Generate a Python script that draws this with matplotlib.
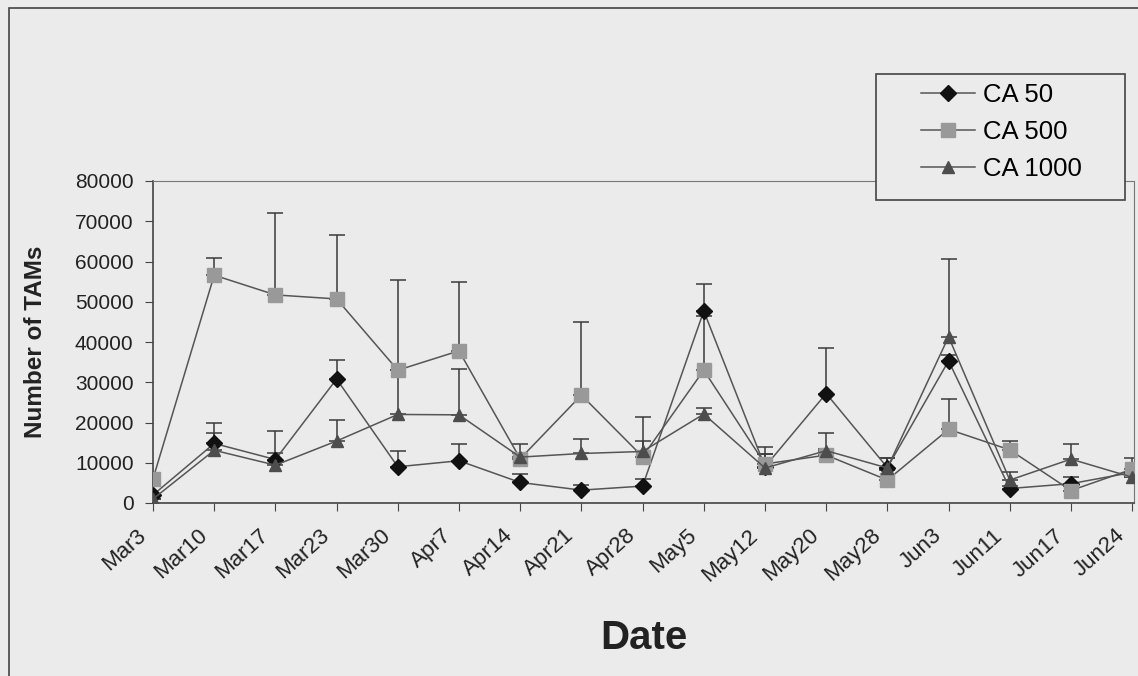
import numpy as np
import matplotlib.pyplot as plt
from matplotlib.patches import Rectangle
from matplotlib.transforms import ScaledTranslation

plt.rcParams['font.family'] = ['Liberation Sans', 'DejaVu Sans']

dates = ['Mar3', 'Mar10', 'Mar17', 'Mar23', 'Mar30', 'Apr7', 'Apr14', 'Apr21', 'Apr28',
         'May5', 'May12', 'May20', 'May28', 'Jun3', 'Jun11', 'Jun17', 'Jun24']

ca50 = [2000, 14800, 10800, 30800, 9000, 10500, 5100, 3200, 4200,
        47700, 9000, 27200, 8800, 35300, 3600, 4800, 7600]
ca50_err = [0, 5100, 7200, 4700, 3800, 4200, 2000, 1300, 1700,
            6600, 3200, 11400, 2500, 1500, 500, 1700, 0]

ca500 = [6000, 56600, 51700, 50700, 33000, 37800, 11000, 26800, 11500,
         33000, 9700, 11900, 5700, 18300, 13200, 3100, 8400]
ca500_err = [0, 4300, 20400, 15900, 22500, 17200, 1500, 18200, 3900,
             13500, 4300, 1500, 2500, 7500, 2200, 1000, 2900]

ca1000 = [1000, 13100, 9400, 15400, 22000, 21900, 11400, 12300, 12800,
          22100, 8700, 13000, 8700, 41300, 5700, 10900, 6400]
ca1000_err = [0, 4300, 3100, 5100, 11000, 11400, 3300, 3600, 8600,
              1600, 3500, 4500, 2600, 19200, 2100, 3800, 0]

W, H = 1138, 676
bg = '#ebebeb'
fig = plt.figure(figsize=(W / 100, H / 100), dpi=100, facecolor=bg)
ax = fig.add_axes([153 / W, 1 - 503 / H, 981 / W, 322 / H], facecolor=bg)

# outer chart frame
fig.patches.append(Rectangle((9 / W, -0.1), 1.2, 1 - 8 / H + 0.1,
                             transform=fig.transFigure, fill=False,
                             edgecolor='#444444', linewidth=1.2))

x = np.arange(len(dates))
series = [
    ('CA 50', ca50, ca50_err, 'D', '#111111', 8),
    ('CA 500', ca500, ca500_err, 's', '#999999', 10),
    ('CA 1000', ca1000, ca1000_err, '^', '#4d4d4d', 9),
]
line_col = '#555555'
for label, vals, err, mk, col, ms in series:
    yerr = [np.zeros(len(err)), err]
    ax.errorbar(x, vals, yerr=yerr, fmt='none', ecolor='#3a3a3a',
                elinewidth=1.1, capsize=6, capthick=1.1, zorder=2)
for label, vals, err, mk, col, ms in series:
    ax.plot(x, vals, color=line_col, linewidth=1.1, marker=mk, markersize=ms,
            markerfacecolor=col, markeredgecolor=col, label=label, zorder=3)

ax.set_xlim(0, 16.03)
ax.set_ylim(0, 80000)
ax.set_yticks(np.arange(0, 80001, 10000))
ax.set_xticks(x)
ax.set_xticklabels([])

# slanted date labels, set a little left of their ticks
lab_tr = ax.get_xaxis_transform() + ScaledTranslation(-0.17, -0.22, fig.dpi_scale_trans)
for xi, d in zip(x, dates):
    ax.text(xi, 0, d, transform=lab_tr, rotation=42, ha='right', va='top',
            rotation_mode='anchor', fontsize=16, color='#222222', clip_on=False)

ax.tick_params(axis='y', labelsize=15, labelcolor='#222222', length=6,
               color='#444444', pad=8)
ax.tick_params(axis='x', length=6, color='#444444')
ax.yaxis.set_major_formatter(plt.FuncFormatter(lambda v, p: f'{int(v)}'))

for s in ['left', 'bottom']:
    ax.spines[s].set_color('#444444')
    ax.spines[s].set_linewidth(1.2)
for s in ['top', 'right']:
    ax.spines[s].set_color('#777777')
    ax.spines[s].set_linewidth(0.8)
    ax.spines[s].set_linestyle((0, (1, 1)))

ax.set_ylabel('Number of TAMs', fontsize=17.5, fontweight='bold',
              color='#222222')
ax.yaxis.set_label_coords(-0.108, 0.5)
fig.text(644 / W, 1 - 638 / H, 'Date', fontsize=29, fontweight='bold',
         color='#222222', ha='center', va='center')

# legend box
fig.patches.append(Rectangle((876 / W, 1 - 200 / H), 249 / W, 126 / H,
                             transform=fig.transFigure, facecolor=bg,
                             edgecolor='#444444', linewidth=1.2, zorder=5))
leg = fig.legend(loc='upper left', bbox_to_anchor=(921 / W, 1 - 83 / H),
                 fontsize=18.5, frameon=False, handlelength=2.1,
                 borderpad=0, labelspacing=0.5, handletextpad=0.3,
                 borderaxespad=0)
leg.set_zorder(6)

fig.savefig('out.png', dpi=100, facecolor=bg)
